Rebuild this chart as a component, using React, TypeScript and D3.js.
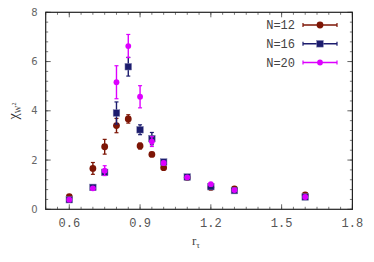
import * as d3 from "d3";

const WIDTH = 374;
const HEIGHT = 262;
const MARGIN = { top: 12.3, left: 45.7, bottom: 52.7, right: 21.6 };

const rValues = [0.6, 0.7, 0.75, 0.8, 0.85, 0.9, 0.95, 1.0, 1.1, 1.2, 1.3, 1.6];

const chi12 = [0.51, 1.66, 2.54, 3.4, 3.67, 2.57, 2.23, 1.69, 1.29, 0.89, 0.83, 0.58];
const err12 = [0.05, 0.24, 0.3, 0.29, 0.17, 0.12, 0.08, 0.06, 0.05, 0.04, 0.04, 0.03];

const chi16 = [0.39, 0.89, 1.5, 3.91, 5.79, 3.23, 2.87, 1.92, 1.31, 0.92, 0.76, 0.5];
const err16 = [0.04, 0.06, 0.1, 0.45, 0.38, 0.2, 0.25, 0.08, 0.06, 0.04, 0.04, 0.03];

const chi20 = [0.39, 0.85, 1.57, 5.16, 6.63, 4.57, 2.75, 1.88, 1.3, 1.02, 0.78, 0.5];
const err20 = [0.03, 0.05, 0.2, 0.67, 0.47, 0.45, 0.2, 0.07, 0.05, 0.05, 0.04, 0.03];

const xTicks = [0.6, 0.9, 1.2, 1.5, 1.8];
const yTicks = [0, 2, 4, 6, 8];

const seriesNames = ["N=12", "N=16", "N=20"];
const seriesColors = ["#7d1505", "#1c1c6e", "#dd00ff"];
const seriesShapes = ["circle", "square", "dot"];

const MONO = "'Liberation Mono', 'DejaVu Sans Mono', monospace";

function Marker({ shape, x, y, color }: { shape: string; x: number; y: number; color: string }) {
  if (shape === "square") {
    return <rect x={x - 3.3} y={y - 3.3} width={6.6} height={6.6} fill={color} stroke="#8080b0" strokeWidth={0.5} />;
  }
  if (shape === "circle") {
    return <circle cx={x} cy={y} r={3.4} fill={color} />;
  }
  return <circle cx={x} cy={y} r={2.9} fill={color} />;
}

export default function App() {
  const boundsWidth = WIDTH - MARGIN.left - MARGIN.right;
  const boundsHeight = HEIGHT - MARGIN.top - MARGIN.bottom;

  const xScale = d3.scaleLinear().domain([0.5, 1.8]).range([0, boundsWidth]);
  const yScale = d3.scaleLinear().domain([0, 8]).range([boundsHeight, 0]);

  const xMinor = d3.range(0.5, 1.8001, 0.05);
  const yMinor = d3.range(0, 8.001, 0.4);

  const series = [
    { vals: chi12, errs: err12 },
    { vals: chi16, errs: err16 },
    { vals: chi20, errs: err20 },
  ];

  const legendRows = [25, 43.8, 62.5];

  return (
    <svg
      width={WIDTH}
      height={HEIGHT}
      style={{ position: "absolute", left: 0, top: 0, background: "#fff" }}
    >
      <g transform={`translate(${MARGIN.left},${MARGIN.top})`}>
        {/* minor ticks, mirrored */}
        {xMinor.map((v, i) => (
          <g key={"xm" + i} stroke="#555" strokeWidth={0.8}>
            <line x1={xScale(v)} x2={xScale(v)} y1={boundsHeight} y2={boundsHeight - 2.5} />
            <line x1={xScale(v)} x2={xScale(v)} y1={0} y2={2.5} />
          </g>
        ))}
        {yMinor.map((v, i) => (
          <g key={"ym" + i} stroke="#555" strokeWidth={0.8}>
            <line x1={0} x2={2.5} y1={yScale(v)} y2={yScale(v)} />
            <line x1={boundsWidth} x2={boundsWidth - 2.5} y1={yScale(v)} y2={yScale(v)} />
          </g>
        ))}
        {xTicks.map((v, i) => (
          <g key={"xt" + i}>
            <line x1={xScale(v)} x2={xScale(v)} y1={boundsHeight} y2={boundsHeight - 5} stroke="#555" strokeWidth={0.9} />
            <line x1={xScale(v)} x2={xScale(v)} y1={0} y2={5} stroke="#555" strokeWidth={0.9} />
            <text
              x={xScale(v)}
              y={boundsHeight + 17.5}
              textAnchor="middle"
              fontSize={12}
              fontFamily={MONO}
              fill="#555"
            >
              {v.toFixed(1)}
            </text>
          </g>
        ))}
        {yTicks.map((v, i) => (
          <g key={"yt" + i}>
            <line x1={0} x2={5} y1={yScale(v)} y2={yScale(v)} stroke="#555" strokeWidth={0.9} />
            <line x1={boundsWidth} x2={boundsWidth - 5} y1={yScale(v)} y2={yScale(v)} stroke="#555" strokeWidth={0.9} />
            <text
              x={-8}
              y={yScale(v)}
              dy="0.35em"
              textAnchor="end"
              fontSize={10}
              fontFamily="'DejaVu Sans', sans-serif"
              fill="#666"
            >
              {v}
            </text>
          </g>
        ))}
        <rect width={boundsWidth} height={boundsHeight} fill="none" stroke="#222" strokeWidth={1.2} />

        {/* data */}
        {series.map((s, si) => (
          <g key={"s" + si}>
            {rValues.map((r, i) => {
              const x = xScale(r);
              const y = yScale(s.vals[i]);
              const y1 = yScale(s.vals[i] + s.errs[i]);
              const y2 = yScale(s.vals[i] - s.errs[i]);
              const color = seriesColors[si];
              return (
                <g key={i}>
                  <line x1={x} x2={x} y1={y1} y2={y2} stroke={color} strokeWidth={1.4} />
                  <line x1={x - 2} x2={x + 2} y1={y1} y2={y1} stroke={color} strokeWidth={1.2} />
                  <line x1={x - 2} x2={x + 2} y1={y2} y2={y2} stroke={color} strokeWidth={1.2} />
                  <Marker shape={seriesShapes[si]} x={x} y={y} color={color} />
                </g>
              );
            })}
          </g>
        ))}
      </g>

      {/* legend */}
      {seriesNames.map((name, i) => {
        const y = legendRows[i];
        const color = seriesColors[i];
        return (
          <g key={"lg" + i}>
            <text x={295} y={y} dy="0.35em" textAnchor="end" fontSize={12} fontFamily={MONO} fill="#444">
              {name}
            </text>
            <line x1={303} x2={337} y1={y} y2={y} stroke={color} strokeWidth={1.4} />
            <line x1={303} x2={303} y1={y - 2} y2={y + 2} stroke={color} strokeWidth={1.2} />
            <line x1={337} x2={337} y1={y - 2} y2={y + 2} stroke={color} strokeWidth={1.2} />
            <Marker shape={seriesShapes[i]} x={320} y={y} color={color} />
          </g>
        );
      })}

      {/* axis labels */}
      <text
        x={196}
        y={245}
        textAnchor="middle"
        fontSize={13}
        fontFamily="'Liberation Serif', serif"
        fill="#444"
      >
        r<tspan fontSize={9} dy={3}>τ</tspan>
      </text>
      <text
        transform="translate(18,111) rotate(-90)"
        textAnchor="middle"
        fontSize={14}
        fontFamily="'Liberation Serif', serif"
        fill="#333"
      >
        χ<tspan fontSize={8} dy={3}>W</tspan>
        <tspan fontSize={6} dy={-5}>2</tspan>
      </text>
    </svg>
  );
}
